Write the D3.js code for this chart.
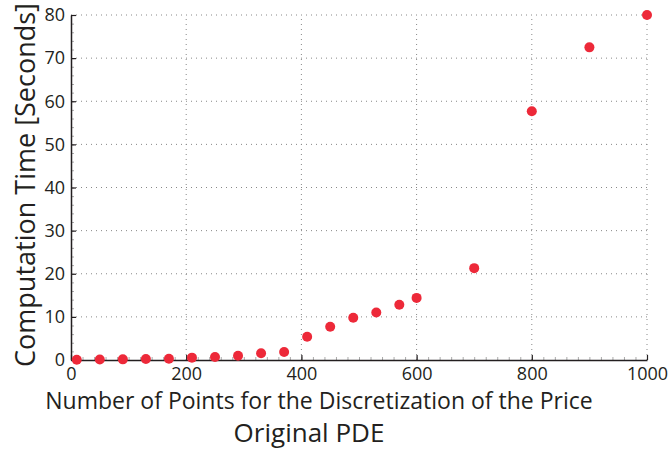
<!DOCTYPE html>
<html>
<head>
<meta charset="utf-8">
<script src="https://cdn.jsdelivr.net/npm/d3@7"></script>
<style>
  body { margin: 0; background: #fff; }
  text { font-family: "Open Sans", "Noto Sans", sans-serif; fill: #231f20; }
</style>
</head>
<body>
<div id="chart"></div>
<script>
// points used for the price discretization
const gridPoints = [10, 50, 90, 130, 170, 210, 250, 290, 330, 370, 410, 450, 490, 530, 570, 600, 700, 800, 900, 1000];
// computation time in seconds
const seconds = [0.05, 0.1, 0.15, 0.25, 0.3, 0.55, 0.7, 1.0, 1.55, 1.85, 5.4, 7.7, 9.8, 11.0, 12.8, 14.4, 21.3, 57.7, 72.5, 80.0];

const xTicks = [0, 200, 400, 600, 800, 1000];
const yTicks = [0, 10, 20, 30, 40, 50, 60, 70, 80];

const width = 670, height = 450;
const margin = {top: 15, right: 23, bottom: 90, left: 71};

const svg = d3.select("#chart").append("svg")
    .attr("width", width)
    .attr("height", height);

const x = d3.scaleLinear()
    .domain([0, 1000])
    .range([margin.left, width - margin.right]);

const y = d3.scaleLinear()
    .domain([0, 80])
    .range([height - margin.bottom, margin.top]);

// dotted grid
svg.append("g")
    .selectAll("line")
    .data(xTicks.slice(1))
    .join("line")
      .attr("x1", d => x(d)).attr("x2", d => x(d))
      .attr("y1", y(0)).attr("y2", y(80))
      .attr("stroke", "#888")
      .attr("stroke-width", 1)
      .attr("stroke-dasharray", "1,4");

svg.append("g")
    .selectAll("line")
    .data(yTicks.slice(1))
    .join("line")
      .attr("x1", x(0)).attr("x2", x(1000))
      .attr("y1", d => y(d)).attr("y2", d => y(d))
      .attr("stroke", "#888")
      .attr("stroke-width", 1)
      .attr("stroke-dasharray", "1,4");

// minor ticks (faint)
svg.append("g")
    .call(d3.axisLeft(y).ticks(40).tickSize(-3).tickFormat(""))
    .attr("transform", `translate(${x(0)},0)`)
    .call(g => g.select(".domain").remove())
    .call(g => g.selectAll("line").attr("stroke", "#aaa"));

svg.append("g")
    .call(d3.axisBottom(x).ticks(50).tickSize(-3).tickFormat(""))
    .attr("transform", `translate(0,${y(0)})`)
    .call(g => g.select(".domain").remove())
    .call(g => g.selectAll("line").attr("stroke", "#aaa"));

// axes
const xAxis = svg.append("g")
    .attr("transform", `translate(0,${y(0)})`)
    .call(d3.axisBottom(x).tickValues(xTicks).tickFormat(d3.format("d"))
      .tickSize(-5).tickPadding(7).tickSizeOuter(0));

const yAxis = svg.append("g")
    .attr("transform", `translate(${x(0)},0)`)
    .call(d3.axisLeft(y).tickValues(yTicks).tickFormat(d3.format("d"))
      .tickSize(-5).tickPadding(6).tickSizeOuter(0));

[xAxis, yAxis].forEach(g => {
  g.select(".domain").attr("stroke", "#231f20").attr("stroke-width", 1.5);
  g.selectAll(".tick line").attr("stroke", "#231f20").attr("stroke-width", 1.2);
  g.selectAll(".tick text")
      .attr("font-size", 18)
      .attr("font-family", "'Open Sans', sans-serif")
      .attr("fill", "#231f20");
});

// data points
svg.append("g")
    .selectAll("circle")
    .data(gridPoints)
    .join("circle")
      .attr("cx", d => x(d))
      .attr("cy", (d, i) => y(seconds[i]))
      .attr("r", 5)
      .attr("fill", "#ed2939");

// axis labels
svg.append("text")
    .attr("text-anchor", "middle")
    .attr("font-size", 23)
    .attr("x", 319)
    .attr("y", 409)
    .text("Number of Points for the Discretization of the Price");

svg.append("text")
    .attr("text-anchor", "middle")
    .attr("font-size", 26)
    .attr("x", 309)
    .attr("y", 442)
    .text("Original PDE");

svg.append("text")
    .attr("text-anchor", "middle")
    .attr("font-size", 27)
    .attr("transform", `translate(35,${185}) rotate(-90)`)
    .text("Computation Time [Seconds]");
</script>
</body>
</html>
